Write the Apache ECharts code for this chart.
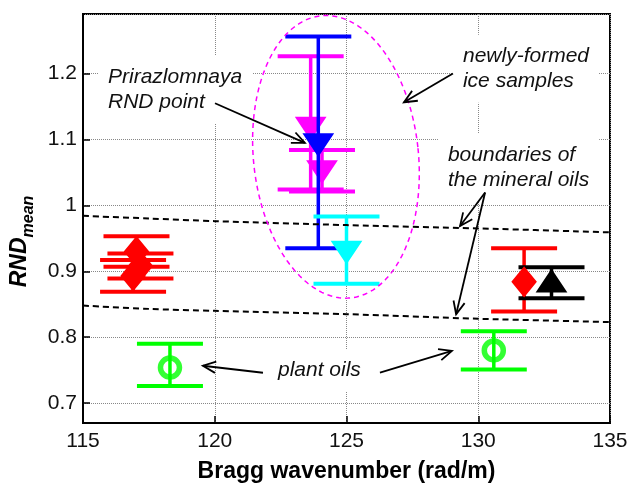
<!DOCTYPE html>
<html><head><meta charset="utf-8">
<script src="https://cdn.jsdelivr.net/npm/echarts@6/dist/echarts.min.js"></script>
<style>html,body{margin:0;padding:0;background:#fff}#c{width:639px;height:488px}</style>
</head><body><div id="c"></div>
<script>
// ---- data ----
const xAxisMin = 115, xAxisMax = 135, xAxisStep = 5;
const yAxisMin = 0.67, yAxisMax = 1.29;

// red diamonds (mineral oils)
const redX    = [117.18, 116.90, 117.03, 131.74];
const redY    = [0.908, 0.893, 0.930, 0.884];
const redLow  = [0.889, 0.869, 0.907, 0.839];
const redHigh = [0.927, 0.917, 0.953, 0.935];
// black triangle
const blackX    = [132.78];
const blackY    = [0.885];
const blackLow  = [0.859];
const blackHigh = [0.906];
// green circles (plant oils)
const greenX    = [118.30, 130.59];
const greenY    = [0.754, 0.780];
const greenLow  = [0.726, 0.751];
const greenHigh = [0.790, 0.809];
// magenta down-triangles (newly-formed ice)
const magentaX    = [123.64, 124.07];
const magentaY    = [1.117, 1.051];
const magentaLow  = [1.024, 1.021];
const magentaHigh = [1.226, 1.084];
// blue down-triangle (Prirazlomnaya)
const blueX    = [123.93];
const blueY    = [1.092];
const blueLow  = [0.935];
const blueHigh = [1.256];
// cyan down-triangle
const cyanX    = [125.00];
const cyanY    = [0.929];
const cyanLow  = [0.881];
const cyanHigh = [0.983];

// boundaries of the mineral oils
const upperBoundX = [115, 117.5, 120, 125, 130, 135];
const upperBoundY = [0.984, 0.980, 0.976, 0.970, 0.965, 0.959];
const lowerBoundX = [115, 117.5, 120, 125, 130, 135];
const lowerBoundY = [0.848, 0.843, 0.840, 0.835, 0.828, 0.823];

// ellipse around newly-formed ice samples: centre, semi-axes (data units), tilt (deg)
const ellipseCenter = [124.60, 1.0735];
const ellipseRadii  = [3.13, 0.215];
const ellipseTilt   = -6;

// annotations
const noteTexts = ['Prirazlomnaya\nRND point', 'newly-formed\nice samples', 'boundaries of\nthe mineral oils', 'plant oils'];
const noteX = [115.57, 129.04, 128.47, 122.02];
const noteY = [1.1747, 1.207, 1.057, 0.7496];

// arrows: from (x1,y1) to (x2,y2)
const arrowX1 = [120.01, 129.04, 130.26, 130.26, 121.83, 126.27];
const arrowY1 = [1.1547, 1.1997, 1.0195, 1.0195, 0.7462, 0.7462];
const arrowX2 = [123.42, 127.18, 129.31, 129.16, 119.55, 129.00];
const arrowY2 = [1.0946, 1.1562, 0.9685, 0.8348, 0.7568, 0.7793];

// ---- chart ----
const FONT = '"Liberation Sans", Arial, sans-serif';
const CAP = 33;
const zip2 = (a, b) => a.map((v, i) => [v, b[i]]);

function errSeries(xs, lo, hi, color, z) {
  return {
    type: 'custom', z: z, silent: true, clip: false,
    data: xs.map((x, i) => [x, lo[i], hi[i]]),
    encode: { x: 0, y: [1, 2] },
    renderItem: function (params, api) {
      const x = api.value(0);
      const a = api.coord([x, api.value(1)]);
      const b = api.coord([x, api.value(2)]);
      return {
        type: 'group', children: [
          { type: 'line', shape: { x1: a[0], y1: a[1], x2: b[0], y2: b[1] }, style: { stroke: color, lineWidth: 3.5 } },
          { type: 'line', shape: { x1: a[0] - CAP, y1: a[1], x2: a[0] + CAP, y2: a[1] }, style: { stroke: color, lineWidth: 4 } },
          { type: 'line', shape: { x1: b[0] - CAP, y1: b[1], x2: b[0] + CAP, y2: b[1] }, style: { stroke: color, lineWidth: 4 } }
        ]
      };
    }
  };
}
function markSeries(xs, ys, color, symbol, size, rotate, hollow, z) {
  return {
    type: 'scatter', z: z, silent: true,
    data: zip2(xs, ys),
    symbol: symbol, symbolSize: size, symbolRotate: rotate,
    itemStyle: hollow ? { color: 'rgba(0,0,0,0)', borderColor: color, borderWidth: 5.5 }
                      : { color: color, opacity: 1, borderColor: color, borderWidth: 2, borderJoin: 'miter' }
  };
}

const series = [
  errSeries(redX, redLow, redHigh, '#ff0000', 2),
  markSeries(redX, redY, '#ff0000', 'diamond', [23, 28], 0, false, 3),
  errSeries(greenX, greenLow, greenHigh, '#00ff00', 2),
  markSeries(greenX, greenY, '#00ff00', 'circle', 19, 0, true, 3),
  errSeries(blackX, blackLow, blackHigh, '#000000', 2),
  markSeries(blackX, blackY, '#000000', 'triangle', [28, 21], 0, false, 3),
  errSeries(magentaX, magentaLow, magentaHigh, '#ff00ff', 4),
  markSeries(magentaX, magentaY, '#ff00ff', 'triangle', [28, 21], 180, false, 5),
  errSeries(blueX, blueLow, blueHigh, '#0000ff', 6),
  markSeries(blueX, blueY, '#0000ff', 'triangle', [28, 21], 180, false, 7),
  errSeries(cyanX, cyanLow, cyanHigh, '#00ffff', 8),
  markSeries(cyanX, cyanY, '#00ffff', 'triangle', [28, 21], 180, false, 9),
  {
    type: 'line', z: 10, silent: true, symbol: 'none', smooth: 0.3,
    data: zip2(upperBoundX, upperBoundY),
    lineStyle: { color: '#000', width: 2, type: [6, 4] }
  },
  {
    type: 'line', z: 10, silent: true, symbol: 'none', smooth: 0.3,
    data: zip2(lowerBoundX, lowerBoundY),
    lineStyle: { color: '#000', width: 2, type: [6, 4] }
  },
  {
    type: 'custom', z: 11, silent: true, clip: false,
    data: noteTexts.map((t, i) => [noteX[i], noteY[i], i]),
    encode: { x: 0, y: 1 },
    renderItem: function (params, api) {
      const p = api.coord([api.value(0), api.value(1)]);
      return {
        type: 'text', x: p[0], y: p[1],
        style: {
          text: noteTexts[api.value(2)], fill: '#111',
          font: 'italic 21px ' + FONT, lineHeight: 25,
          align: 'left', verticalAlign: 'middle',
          backgroundColor: '#fff', padding: [9, 10, 9, 10]
        }
      };
    }
  },
  {
    type: 'custom', z: 12, silent: true, clip: false,
    data: [ellipseCenter],
    encode: { x: 0, y: 1 },
    renderItem: function (params, api) {
      const c = api.coord([api.value(0), api.value(1)]);
      const rx = api.size([ellipseRadii[0], 0])[0];
      const ry = api.size([0, ellipseRadii[1]])[1];
      const a = ellipseTilt * Math.PI / 180;
      const pts = [];
      for (let k = 0; k <= 180; k++) {
        const t = k / 180 * Math.PI * 2;
        const ex = rx * Math.cos(t), ey = ry * Math.sin(t);
        pts.push([c[0] + ex * Math.cos(a) - ey * Math.sin(a), c[1] + ex * Math.sin(a) + ey * Math.cos(a)]);
      }
      return { type: 'polyline', shape: { points: pts }, style: { stroke: '#ff00ff', lineWidth: 1.5, lineDash: [5, 4], fill: null } };
    }
  },
  {
    type: 'custom', z: 13, silent: true, clip: false,
    data: arrowX1.map((x, i) => [x, arrowY1[i], arrowX2[i], arrowY2[i]]),
    encode: { x: [0, 2], y: [1, 3] },
    renderItem: function (params, api) {
      const p1 = api.coord([api.value(0), api.value(1)]);
      const p2 = api.coord([api.value(2), api.value(3)]);
      const ang = Math.atan2(p2[1] - p1[1], p2[0] - p1[0]);
      const L = 14, h = 0.42;
      const h1 = [p2[0] - L * Math.cos(ang - h), p2[1] - L * Math.sin(ang - h)];
      const h2 = [p2[0] - L * Math.cos(ang + h), p2[1] - L * Math.sin(ang + h)];
      const st = { stroke: '#000', lineWidth: 1.8, fill: null };
      return {
        type: 'group', children: [
          { type: 'line', shape: { x1: p1[0], y1: p1[1], x2: p2[0], y2: p2[1] }, style: st },
          { type: 'polyline', shape: { points: [h1, p2, h2] }, style: st }
        ]
      };
    }
  }
];

const chart = echarts.init(document.getElementById('c'), null, { renderer: 'canvas' });
chart.setOption({
  animation: false,
  backgroundColor: '#fff',
  grid: { left: 83, right: 29, top: 14, bottom: 61, show: true, borderColor: '#000', borderWidth: 2, backgroundColor: 'transparent' },
  xAxis: {
    type: 'value', min: xAxisMin, max: xAxisMax, interval: xAxisStep,
    name: 'Bragg wavenumber (rad/m)', nameLocation: 'middle', nameGap: 37,
    nameTextStyle: { fontFamily: FONT, fontSize: 23, fontWeight: 'bold', color: '#000' },
    axisLine: { show: true, lineStyle: { color: '#000', width: 2 } },
    axisTick: { show: true, inside: true, length: 7, lineStyle: { color: '#000', width: 1.5 } },
    axisLabel: { fontFamily: FONT, fontSize: 21, color: '#111', margin: 8 },
    splitLine: { show: true, lineStyle: { color: '#888', type: 'dotted', width: 1 } }
  },
  yAxis: {
    type: 'value', min: yAxisMin, max: yAxisMax, splitNumber: 5,
    name: '{a|RND}{b|mean}', nameLocation: 'middle', nameGap: 40, nameRotate: 90,
    nameTextStyle: {
      padding: [0, 46, 0, 0],
      rich: {
        a: { fontFamily: FONT, fontSize: 23, fontWeight: 'bold', fontStyle: 'italic', color: '#000', lineHeight: 34 },
        b: { fontFamily: FONT, fontSize: 16, fontWeight: 'bold', fontStyle: 'italic', color: '#000', lineHeight: 16, verticalAlign: 'bottom' }
      }
    },
    axisLine: { show: true, lineStyle: { color: '#000', width: 2 } },
    axisTick: { show: true, inside: true, length: 7, lineStyle: { color: '#000', width: 1.5 } },
    axisLabel: { fontFamily: FONT, fontSize: 21, color: '#111', margin: 6, showMinLabel: false, showMaxLabel: false },
    splitLine: { show: true, lineStyle: { color: '#888', type: 'dotted', width: 1 } }
  },
  series: series
});
</script>
</body></html>
